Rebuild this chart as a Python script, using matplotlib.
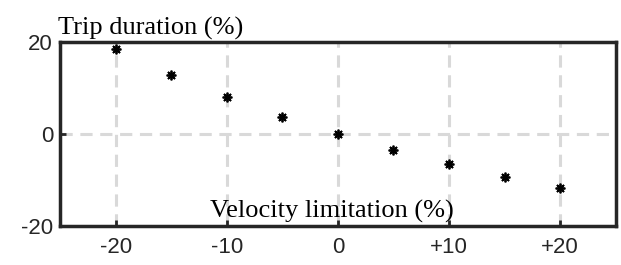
import matplotlib
matplotlib.use("Agg")
import matplotlib.pyplot as plt

plt.rcParams["axes.unicode_minus"] = False

# velocity limitation change (%) vs trip duration change (%)
velocity = [-20, -15, -10, -5, 0, 5, 10, 15, 20]
duration = [18.5, 12.8, 8.0, 3.7, 0.0, -3.5, -6.5, -9.3, -11.7]
xticks = [-20, -10, 0, 10, 20]
xticklabels = ["-20", "-10", "0", "+10", "+20"]
yticks = [-20, 0, 20]
yticklabels = ["-20", "0", "20"]

fig = plt.figure(figsize=(6.21, 2.65), dpi=100)
ax = fig.add_axes([0.0966, 0.147, 0.895, 0.6945])

ax.grid(True, color="#d9d9d9", linestyle=(0, (4, 2.5)), linewidth=2.2, zorder=0)
ax.plot(velocity, duration, linestyle="none", marker=(8, 2, 0), markersize=7,
        color="black", markeredgewidth=1.3, zorder=3)

ax.set_xlim(-25, 25)
ax.set_ylim(-20, 20)
ax.set_xticks(xticks)
ax.set_xticklabels(xticklabels)
ax.set_yticks(yticks)
ax.set_yticklabels(yticklabels)
for lbl in ax.get_xticklabels() + ax.get_yticklabels():
    lbl.set_fontfamily("Liberation Sans")
    lbl.set_fontsize(16)
    lbl.set_color("#262626")
ax.tick_params(direction="in", length=4, width=2, color="#262626", pad=5)
ax.tick_params(axis="x", pad=8)

for s in ax.spines.values():
    s.set_linewidth(2.5)
    s.set_color("#262626")
    s.set_zorder(4)

ax.text(-0.003, 1.04, "Trip duration (%)", transform=ax.transAxes,
        family="Liberation Serif", fontsize=19, ha="left", va="baseline")
ax.text(-0.5, -18.1, "Velocity limitation (%)",
        family="Liberation Serif", fontsize=19, ha="center", va="baseline", zorder=5)

fig.savefig("out.png", dpi=100)
